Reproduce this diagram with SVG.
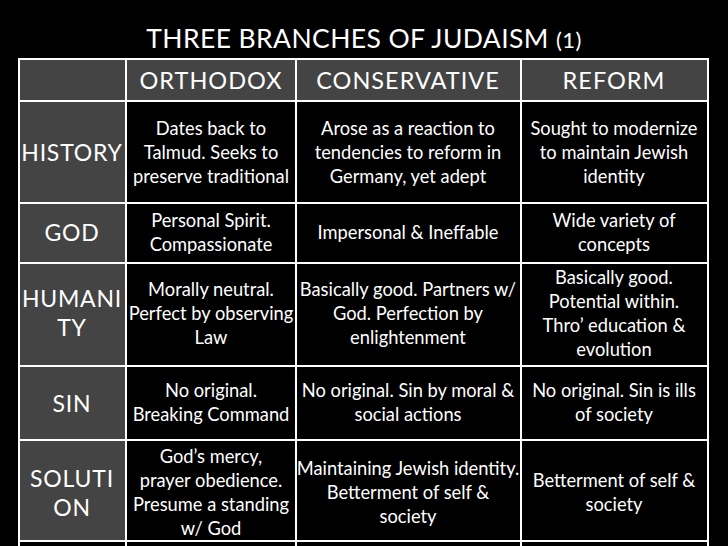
<svg xmlns="http://www.w3.org/2000/svg" width="728" height="546" viewBox="0 0 728 546">
<style>
text{font-family:Lato,"Open Sans",sans-serif;fill:#fff;text-anchor:middle}
.b{font-size:18.3px}
.h{font-size:23px;letter-spacing:0.8px}
.hh{font-size:23.5px;letter-spacing:1px}
.g{fill:#444}
.l{stroke:#fff;stroke-width:2;fill:none}
</style>
<rect width="728" height="546" fill="#000"/>
<text x="364" y="48" style="font-size:26.5px;letter-spacing:0.4px">THREE BRANCHES OF JUDAISM <tspan style="font-size:22px">(1)</tspan></text>
<g id="shade">
<rect class="g" x="19" y="59" width="689" height="42"/>
<rect class="g" x="19" y="101" width="107" height="440"/>
</g>
<g id="grid">
<path class="l" d="M19 59H708V541H19Z M19 101H708 M19 203H708 M19 263H708 M19 366H708 M19 440H708 M126 59V541 M296 59V541 M521 59V541 M19 541V546 M126 541V546 M296 541V546 M521 541V546 M708 541V546"/>
</g>
<g id="header" class="hh">
<text x="211" y="89">ORTHODOX</text>
<text x="408" y="89">CONSERVATIVE</text>
<text x="614" y="89">REFORM</text>
</g>
<g id="rowlabels" class="h">
<text x="72" y="161">HISTORY</text>
<text x="72" y="241">GOD</text>
<text x="72" y="307">HUMANI</text><text x="72" y="336">TY</text>
<text x="72" y="412">SIN</text>
<text x="72" y="487">SOLUTI</text><text x="72" y="516">ON</text>
</g>
<g id="cells" class="b">
<text x="211" y="135">Dates back to</text><text x="211" y="159">Talmud. Seeks to</text><text x="211" y="183">preserve traditional</text>
<text x="408" y="135">Arose as a reaction to</text><text x="408" y="159">tendencies to reform in</text><text x="408" y="183">Germany, yet adept</text>
<text x="614" y="135">Sought to modernize</text><text x="614" y="159">to maintain Jewish</text><text x="614" y="183">identity</text>
<text x="211" y="227">Personal Spirit.</text><text x="211" y="251">Compassionate</text>
<text x="408" y="239">Impersonal &amp; Ineffable</text>
<text x="614" y="227">Wide variety of</text><text x="614" y="251">concepts</text>
<text x="211" y="296">Morally neutral.</text><text x="211" y="320">Perfect by observing</text><text x="211" y="344">Law</text>
<text x="408" y="296">Basically good. Partners w/</text><text x="408" y="320">God. Perfection  by</text><text x="408" y="344">enlightenment</text>
<text x="614" y="284">Basically good.</text><text x="614" y="308">Potential within.</text><text x="614" y="332">Thro’ education &amp;</text><text x="614" y="356">evolution</text>
<text x="211" y="397">No original.</text><text x="211" y="421">Breaking Command</text>
<text x="408" y="397">No original. Sin by moral &amp;</text><text x="408" y="421">social actions</text>
<text x="614" y="397">No original. Sin is ills</text><text x="614" y="421">of society</text>
<text x="211" y="463">God’s mercy,</text><text x="211" y="487">prayer obedience.</text><text x="211" y="511">Presume a standing</text><text x="211" y="535">w/ God</text>
<text x="408" y="475">Maintaining Jewish identity.</text><text x="408" y="499">Betterment of self &amp;</text><text x="408" y="523">society</text>
<text x="614" y="487">Betterment of self &amp;</text><text x="614" y="511">society</text>
</g>
</svg>
